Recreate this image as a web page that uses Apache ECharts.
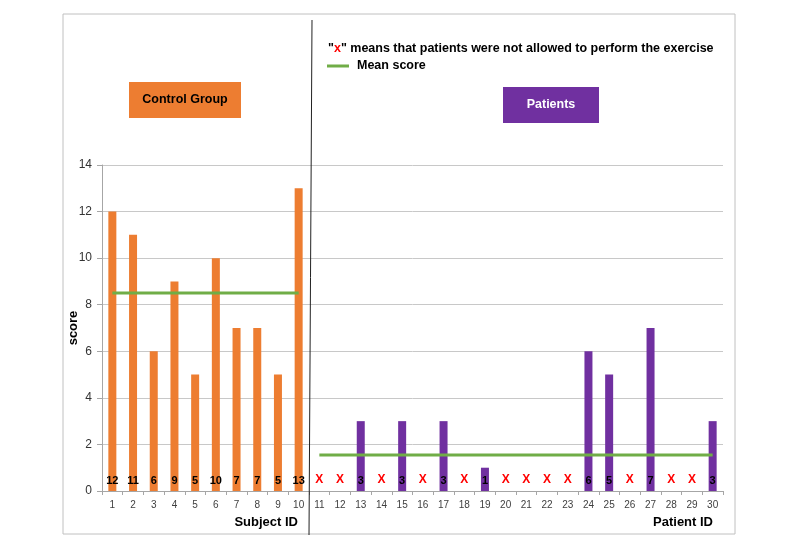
<!DOCTYPE html>
<html>
<head>
<meta charset="utf-8">
<script src="https://cdn.jsdelivr.net/npm/echarts@6/dist/echarts.min.js"></script>
<style>html,body{margin:0;padding:0;background:#fff}#c{width:800px;height:550px}</style>
</head>
<body>
<div id="c"></div>
<script>
// ---- data ----
var categories = ['1','2','3','4','5','6','7','8','9','10','11','12','13','14','15','16','17','18','19','20','21','22','23','24','25','26','27','28','29','30'];
var controlScores = [12, 11, 6, 9, 5, 10, 7, 7, 5, 13];           // subjects 1-10
var patientScores = [null, null, 3, null, 3, null, 3, null, 1, null, null, null, null, 6, 5, null, 7, null, null, 3]; // patients 11-30, null = not allowed ("x")
var controlMean = 8.5;
var patientMean = 1.55;
var yTicks = [0, 2, 4, 6, 8, 10, 12, 14];

var nC = controlScores.length;
var labelStyle = { show: true, position: 'insideBottom', distance: 5, color: '#000', fontWeight: 'bold', fontSize: 11, fontFamily: 'Liberation Sans, Arial, sans-serif' };

var controlData = categories.map(function (c, i) {
  return i < nC ? controlScores[i] : null;
});
var patientData = categories.map(function (c, i) {
  if (i < nC) return null;
  var v = patientScores[i - nC];
  if (v === null) return { value: 0, label: { formatter: 'X', color: '#ff0000', fontSize: 12 } };
  return v;
});
var controlMeanData = categories.map(function (c, i) { return i < nC ? controlMean : null; });
var patientMeanData = categories.map(function (c, i) { return i >= nC ? patientMean : null; });

var chart = echarts.init(document.getElementById('c'));
var font = 'Liberation Sans, Arial, sans-serif';
chart.setOption({
  animation: false,
  backgroundColor: '#fff',
  grid: { left: 102, right: 77, top: 165, bottom: 59 },
  xAxis: {
    type: 'category',
    data: categories,
    axisLine: { lineStyle: { color: '#a6a6a6' } },
    axisTick: { show: true, length: 4, lineStyle: { color: '#a6a6a6' } },
    axisLabel: { color: '#404040', fontSize: 10, margin: 9, fontFamily: font, interval: 0 }
  },
  yAxis: {
    type: 'value',
    min: yTicks[0], max: yTicks[yTicks.length - 1], interval: 2,
    name: 'score', nameLocation: 'middle', nameGap: 22, nameMoveOverlap: false,
    nameTextStyle: { fontWeight: 'bold', fontSize: 13, color: '#000', fontFamily: font },
    axisLine: { show: true, lineStyle: { color: '#a6a6a6' } },
    axisTick: { show: true, length: 5, lineStyle: { color: '#a6a6a6' } },
    axisLabel: { color: '#333', fontSize: 12, fontFamily: font, margin: 10 },
    splitLine: { lineStyle: { color: '#c8c8c8' } }
  },
  series: [
    { type: 'bar', data: controlData, barWidth: 8, barGap: '-100%', itemStyle: { color: '#ed7d31' }, label: labelStyle },
    { type: 'bar', data: patientData, barWidth: 8, barGap: '-100%', itemStyle: { color: '#7030a0' }, label: labelStyle },
    { type: 'line', data: controlMeanData, symbol: 'none', lineStyle: { color: '#70ad47', width: 3 }, z: 5 },
    { type: 'line', data: patientMeanData, symbol: 'none', lineStyle: { color: '#70ad47', width: 3 }, z: 5 }
  ],
  graphic: [
    { type: 'rect', z: -10, shape: { x: 63, y: 14, width: 672, height: 520 }, style: { fill: 'none', stroke: '#c0c0c0', lineWidth: 1 } },
    { type: 'line', z: 10, shape: { x1: 312, y1: 20, x2: 309, y2: 535 }, style: { stroke: '#222', lineWidth: 1 } },
    { type: 'rect', shape: { x: 129, y: 82, width: 112, height: 36 }, style: { fill: '#ed7d31' } },
    { type: 'text', style: { x: 185, y: 100, text: 'Control Group', align: 'center', verticalAlign: 'middle', fill: '#000', font: 'bold 12.5px ' + font } },
    { type: 'rect', shape: { x: 503, y: 87, width: 96, height: 36 }, style: { fill: '#7030a0' } },
    { type: 'text', style: { x: 551, y: 105, text: 'Patients', align: 'center', verticalAlign: 'middle', fill: '#fff', font: 'bold 12.5px ' + font } },
    { type: 'text', style: { x: 328, y: 49, text: '{q|"}{x|x}{q|" means that patients were not allowed to perform the exercise}', verticalAlign: 'middle',
      rich: { q: { fill: '#000', font: 'bold 12.5px ' + font }, x: { fill: '#ff0000', font: 'bold 12.5px ' + font } } } },
    { type: 'line', shape: { x1: 327, y1: 66, x2: 349, y2: 66 }, style: { stroke: '#70ad47', lineWidth: 3 } },
    { type: 'text', style: { x: 357, y: 66, text: 'Mean score', verticalAlign: 'middle', fill: '#000', font: 'bold 12.5px ' + font } },
    { type: 'text', style: { x: 298, y: 522, text: 'Subject ID', align: 'right', verticalAlign: 'middle', fill: '#000', font: 'bold 13px ' + font } },
    { type: 'text', style: { x: 713, y: 522, text: 'Patient ID', align: 'right', verticalAlign: 'middle', fill: '#000', font: 'bold 13px ' + font } }
  ]
});
</script>
</body>
</html>
